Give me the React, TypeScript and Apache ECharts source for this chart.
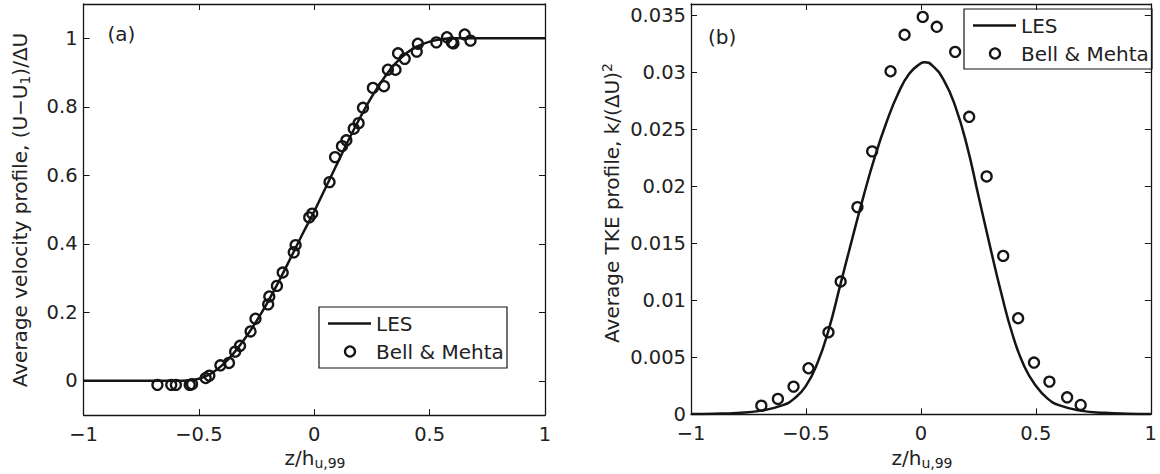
import React, { useEffect, useRef } from "react";
import * as echarts from "echarts";

const FONT = '"DejaVu Sans", "Liberation Sans", sans-serif';
const INK = "#151515";
const TXT = "#222222";

// Panel (a): velocity profile
const velLesX = [-1, -0.8, -0.6, -0.55, -0.5, -0.45, -0.4, -0.35, -0.3, -0.25, -0.2, -0.15, -0.1, -0.05, 0, 0.05, 0.1, 0.15, 0.2, 0.25, 0.3, 0.35, 0.4, 0.45, 0.5, 0.55, 0.6, 0.65, 0.8, 1];
const velLesY = [0, 0, 0, 0.001, 0.006, 0.02, 0.045, 0.08, 0.124, 0.175, 0.232, 0.295, 0.362, 0.43, 0.495, 0.565, 0.635, 0.705, 0.77, 0.83, 0.882, 0.925, 0.957, 0.977, 0.99, 0.997, 1, 1, 1, 1];
const velBellX = [-0.68, -0.62, -0.6, -0.54, -0.53, -0.471, -0.455, -0.407, -0.37, -0.343, -0.322, -0.276, -0.255, -0.2, -0.195, -0.162, -0.137, -0.089, -0.081, -0.022, -0.009, 0.066, 0.09, 0.12, 0.139, 0.171, 0.192, 0.211, 0.254, 0.302, 0.319, 0.352, 0.363, 0.392, 0.444, 0.449, 0.529, 0.575, 0.596, 0.603, 0.652, 0.677];
const velBellY = [-0.012, -0.012, -0.012, -0.012, -0.01, 0.008, 0.015, 0.045, 0.052, 0.085, 0.102, 0.144, 0.181, 0.223, 0.246, 0.277, 0.316, 0.375, 0.396, 0.477, 0.488, 0.58, 0.653, 0.685, 0.702, 0.736, 0.752, 0.797, 0.855, 0.86, 0.908, 0.908, 0.956, 0.94, 0.961, 0.984, 0.988, 1.003, 0.988, 0.985, 1.011, 0.993];
const velTicks = [0, 0.2, 0.4, 0.6, 0.8, 1];

// Panel (b): TKE profile
const tkeLesX = [-1, -0.9, -0.8, -0.7, -0.6, -0.55, -0.5, -0.45, -0.4, -0.35, -0.3, -0.25, -0.2, -0.15, -0.1, -0.05, 0, 0.015, 0.05, 0.1, 0.15, 0.2, 0.25, 0.3, 0.35, 0.4, 0.45, 0.5, 0.55, 0.6, 0.7, 0.8, 0.9, 1];
const tkeLesY = [0.00002, 0.00005, 0.00012, 0.0003, 0.0008, 0.0014, 0.0025, 0.0045, 0.0075, 0.0114, 0.0153, 0.0191, 0.0226, 0.0256, 0.0281, 0.0299, 0.0308, 0.0309, 0.0306, 0.0293, 0.027, 0.0236, 0.0192, 0.0148, 0.0106, 0.0069, 0.0042, 0.0025, 0.0014, 0.0008, 0.0003, 0.00013, 0.00005, 0.00002];
const tkeBellX = [-0.694, -0.622, -0.554, -0.489, -0.402, -0.349, -0.276, -0.212, -0.132, -0.071, 0.008, 0.069, 0.149, 0.21, 0.286, 0.358, 0.423, 0.492, 0.559, 0.636, 0.695];
const tkeBellY = [0.00076, 0.00135, 0.00243, 0.00404, 0.0072, 0.01165, 0.01818, 0.02307, 0.0301, 0.0333, 0.03487, 0.034, 0.0318, 0.0261, 0.02087, 0.0139, 0.00843, 0.00454, 0.00287, 0.00149, 0.00082];
const tkeTicks = [0, 0.005, 0.01, 0.015, 0.02, 0.025, 0.03, 0.035];

const xTicks = [-1, -0.5, 0, 0.5, 1];

const fmt = (v: number) => {
  const s = String(parseFloat(Math.abs(v).toFixed(4)));
  return v < 0 ? "\u2212" + s : s;
};

const zip = (xs: number[], ys: number[]) => xs.map((x, i) => [x, ys[i]]);

const axisLine = { show: true, onZero: false, lineStyle: { color: INK, width: 1.3 } };
const tick = (vals: number[]) => ({
  show: true,
  inside: true,
  length: 6,
  customValues: vals,
  lineStyle: { color: INK, width: 1 },
});
const label = (vals: number[], margin: number) => ({
  show: true,
  customValues: vals,
  margin,
  formatter: (v: number) => fmt(v),
  fontFamily: FONT,
  fontSize: 19.5,
  color: TXT,
});
const noLabel = { show: false };

function xAxes(gridIndex: number) {
  return [
    {
      type: "value", gridIndex, position: "bottom", min: -1, max: 1, interval: 0.5,
      axisLine, axisTick: tick(xTicks), axisLabel: label(xTicks, 9), splitLine: { show: false },
    },
    {
      type: "value", gridIndex, position: "top", min: -1, max: 1, interval: 0.5,
      axisLine, axisTick: tick(xTicks), axisLabel: noLabel, splitLine: { show: false },
    },
  ];
}

function yAxes(gridIndex: number, min: number, max: number, ticks: number[], margin: number) {
  return [
    {
      type: "value", gridIndex, position: "left", min, max,
      axisLine, axisTick: tick(ticks), axisLabel: label(ticks, margin), splitLine: { show: false },
    },
    {
      type: "value", gridIndex, position: "right", min, max,
      axisLine, axisTick: tick(ticks), axisLabel: noLabel, splitLine: { show: false },
    },
  ];
}

const lesStyle = { color: INK, width: 2.5 };
const circleStyle = { color: "rgba(0,0,0,0)", borderColor: INK, borderWidth: 2.3, opacity: 1 };

function legend(x: number, y: number, h: number) {
  return {
    type: "group",
    x,
    y,
    children: [
      { type: "rect", shape: { x: 0, y: 0, width: 188, height: h }, style: { fill: "#fff", stroke: INK, lineWidth: 1.2 } },
      { type: "line", shape: { x1: 9, y1: 16.5, x2: 52, y2: 16.5 }, style: { stroke: INK, lineWidth: 2.5 } },
      { type: "text", x: 57, y: 17, style: { text: "LES", fontFamily: FONT, fontSize: 20, fill: TXT, verticalAlign: "middle" } },
      { type: "circle", shape: { cx: 31, cy: 44.5, r: 5 }, style: { fill: "none", stroke: INK, lineWidth: 2.3 } },
      { type: "text", x: 57, y: 45, style: { text: "Bell & Mehta", fontFamily: FONT, fontSize: 20, fill: TXT, verticalAlign: "middle" } },
    ],
  };
}

const subRich = {
  m: { fontFamily: FONT, fontSize: 20, lineHeight: 24, fill: TXT, color: TXT },
  s: { fontFamily: FONT, fontSize: 14, lineHeight: 16, padding: [18, 0, 0, 0], verticalAlign: "bottom", fill: TXT, color: TXT },
  p: { fontFamily: FONT, fontSize: 14, lineHeight: 16, padding: [0, 0, 18, 0], verticalAlign: "top", fill: TXT, color: TXT },
};

function xTitle(cx: number) {
  return {
    type: "text",
    x: cx,
    y: 458,
    style: { text: "{m|z/h}{s|u,99}", rich: subRich, align: "center", verticalAlign: "middle", fill: TXT },
  };
}

export default function App() {
  const ref = useRef<HTMLDivElement>(null);

  useEffect(() => {
    if (!ref.current) return;
    const chart = echarts.init(ref.current, undefined, { renderer: "svg" });
    chart.setOption({
      animation: false,
      backgroundColor: "#ffffff",
      grid: [
        { left: 83.6, top: 4, width: 461.4, height: 411, show: false },
        { left: 691, top: 4, width: 461, height: 410.3, show: false },
      ],
      xAxis: [...xAxes(0), ...xAxes(1)],
      yAxis: [...yAxes(0, -0.1, 1.1, velTicks, 6), ...yAxes(1, 0, 0.036, tkeTicks, 5)],
      series: [
        {
          name: "LES", type: "line", xAxisIndex: 0, yAxisIndex: 0, data: zip(velLesX, velLesY),
          showSymbol: false, symbol: "none", smooth: 0.4, lineStyle: lesStyle, z: 2,
        },
        {
          name: "Bell & Mehta", type: "scatter", xAxisIndex: 0, yAxisIndex: 0, data: zip(velBellX, velBellY),
          symbol: "circle", symbolSize: 10, itemStyle: circleStyle, z: 3,
        },
        {
          name: "LES", type: "line", xAxisIndex: 2, yAxisIndex: 2, data: zip(tkeLesX, tkeLesY),
          showSymbol: false, symbol: "none", smooth: 0.5, lineStyle: lesStyle, z: 2,
        },
        {
          name: "Bell & Mehta", type: "scatter", xAxisIndex: 2, yAxisIndex: 2, data: zip(tkeBellX, tkeBellY),
          symbol: "circle", symbolSize: 10, itemStyle: circleStyle, z: 3,
        },
      ],
      graphic: [
        legend(319, 307, 61),
        legend(964, 9, 60),
        { type: "text", x: 107.5, y: 34, style: { text: "(a)", fontFamily: FONT, fontSize: 20, fill: TXT, verticalAlign: "middle" } },
        { type: "text", x: 708, y: 37, style: { text: "(b)", fontFamily: FONT, fontSize: 20, fill: TXT, verticalAlign: "middle" } },
        xTitle(315),
        xTitle(922),
        {
          type: "text", x: 20, y: 210, rotation: Math.PI / 2,
          style: { text: "{m|Average velocity profile, (U\u2212U}{s|1}{m|)/\u0394U}", rich: subRich, align: "center", verticalAlign: "middle", fill: TXT },
        },
        {
          type: "text", x: 612, y: 203, rotation: Math.PI / 2,
          style: { text: "{m|Average TKE profile, k/(\u0394U)}{p|2}", rich: subRich, align: "center", verticalAlign: "middle", fill: TXT },
        },
      ],
    });
    return () => chart.dispose();
  }, []);

  return (
    <div
      ref={ref}
      style={{ position: "absolute", left: 0, top: 0, width: 1160, height: 474, background: "#fff" }}
    />
  );
}
